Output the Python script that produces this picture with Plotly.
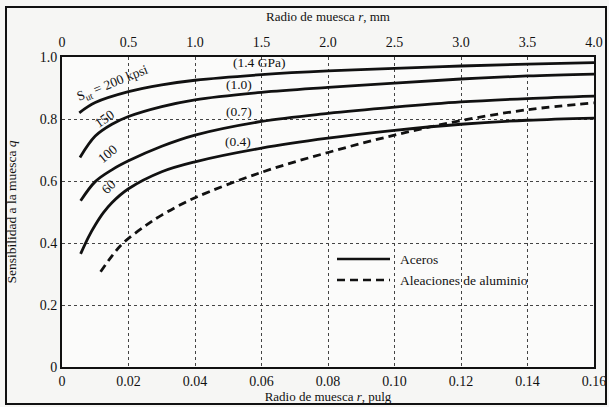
import plotly.graph_objects as go

# Notch radius r (in) and notch sensitivity q
r_200 = [0.0052, 0.01, 0.02, 0.03, 0.04, 0.06, 0.08, 0.10, 0.12, 0.14, 0.16]
q_200 = [0.820, 0.853, 0.888, 0.910, 0.925, 0.943, 0.955, 0.963, 0.971, 0.977, 0.982]

r_150 = [0.0054, 0.01, 0.015, 0.02, 0.03, 0.04, 0.06, 0.08, 0.10, 0.12, 0.14, 0.16]
q_150 = [0.676, 0.745, 0.783, 0.808, 0.840, 0.862, 0.886, 0.902, 0.916, 0.929, 0.939, 0.945]

r_100 = [0.0056, 0.01, 0.015, 0.02, 0.03, 0.04, 0.06, 0.08, 0.10, 0.12, 0.14, 0.16]
q_100 = [0.536, 0.598, 0.636, 0.665, 0.712, 0.748, 0.792, 0.818, 0.838, 0.855, 0.866, 0.874]

r_60 = [0.0056, 0.008, 0.01, 0.0124, 0.015, 0.02, 0.03, 0.04, 0.06, 0.08, 0.10, 0.12, 0.14, 0.16]
q_60 = [0.365, 0.420, 0.458, 0.497, 0.530, 0.575, 0.630, 0.662, 0.706, 0.738, 0.763, 0.783, 0.796, 0.803]

r_al = [0.0116, 0.015, 0.0184, 0.025, 0.03, 0.04, 0.06, 0.08, 0.10, 0.12, 0.14, 0.16]
q_al = [0.307, 0.358, 0.400, 0.455, 0.490, 0.546, 0.628, 0.692, 0.748, 0.795, 0.830, 0.852]

x_ticks_in = [0, 0.02, 0.04, 0.06, 0.08, 0.10, 0.12, 0.14, 0.16]
x_ticklabels_in = ["0", "0.02", "0.04", "0.06", "0.08", "0.10", "0.12", "0.14", "0.16"]
x_ticks_mm = [0, 0.5, 1.0, 1.5, 2.0, 2.5, 3.0, 3.5, 4.0]
x_ticklabels_mm = ["0", "0.5", "1.0", "1.5", "2.0", "2.5", "3.0", "3.5", "4.0"]
y_ticks = [0, 0.2, 0.4, 0.6, 0.8, 1.0]
y_ticklabels = ["0", "0.2", "0.4", "0.6", "0.8", "1.0"]

FONT = "Liberation Serif"
INK = "#111111"

fig = go.Figure()
for rr, qq in [(r_200, q_200), (r_150, q_150), (r_100, q_100), (r_60, q_60)]:
    fig.add_trace(go.Scatter(x=rr, y=qq, mode="lines", line=dict(color=INK, width=2.8, shape="spline", smoothing=1.0),
                             showlegend=False, hoverinfo="skip"))
fig.add_trace(go.Scatter(x=r_al, y=q_al, mode="lines",
                         line=dict(color=INK, width=2.8, dash="8px,5px", shape="spline", smoothing=1.0),
                         showlegend=False, hoverinfo="skip"))
# invisible trace to activate the top (mm) axis
fig.add_trace(go.Scatter(x=[0, 4.0], y=[0, 0], xaxis="x2", mode="lines", line=dict(width=0),
                         showlegend=False, hoverinfo="skip"))

grid = dict(showgrid=True, gridcolor="#444444", gridwidth=1, griddash="dot")
fig.update_layout(
    width=609, height=407,
    margin=dict(l=62, r=15, t=57, b=40),
    paper_bgcolor="#f6f6f4", plot_bgcolor="#fbfbfa",
    font=dict(family=FONT, size=14, color=INK),
    xaxis=dict(range=[0, 0.16], tickvals=x_ticks_in, ticktext=x_ticklabels_in, ticks="", automargin=False,
               showline=True, linecolor=INK, linewidth=2, mirror=True, zeroline=False,
               title=dict(text="Radio de muesca <i>r</i>, pulg", font=dict(size=13), standoff=2),
               **grid),
    xaxis2=dict(range=[0, 4.0], overlaying="x", side="top", tickvals=x_ticks_mm, ticktext=x_ticklabels_mm,
                ticks="", showgrid=False, zeroline=False, showline=False, automargin=False,
                ticklabelstandoff=6,
                title=dict(text="Radio de muesca <i>r</i>, mm", font=dict(size=13), standoff=10)),
    yaxis=dict(range=[0, 1.0], tickvals=y_ticks, ticktext=y_ticklabels, ticks="", automargin=False,
               showline=True, linecolor=INK, linewidth=2, mirror=True, zeroline=False,
               title=dict(text="Sensibilidad a la muesca <i>q</i>", font=dict(size=13.5), standoff=20),
               **grid),
)

labels = [
    ("S<sub>ut</sub> = 200 kpsi", 0.0154, 0.913, -22),
    ("150", 0.0129, 0.803, -35),
    ("100", 0.0138, 0.690, -40),
    ("60", 0.0141, 0.581, -45),
    ("(1.4 GPa)", 0.0595, 0.981, 0),
    ("(1.0)", 0.0532, 0.910, 0),
    ("(0.7)", 0.0532, 0.823, 0),
    ("(0.4)", 0.0529, 0.729, 0),
]
for txt, x, y, ang in labels:
    fig.add_annotation(x=x, y=y, text=txt, showarrow=False, textangle=ang,
                       xanchor="center", yanchor="middle",
                       font=dict(family=FONT, size=13.5, color=INK))

# legend drawn in plot area
def px2paper(px, py):
    return (px - 62) / 532, (367 - py) / 310

x0, y0 = px2paper(337, 259)
x1, _ = px2paper(390, 259)
fig.add_shape(type="line", xref="paper", yref="paper", x0=x0, x1=x1, y0=y0, y1=y0,
              line=dict(color=INK, width=2.4))
x0, y0 = px2paper(337, 280)
fig.add_shape(type="line", xref="paper", yref="paper", x0=x0, x1=x1, y0=y0, y1=y0,
              line=dict(color=INK, width=2.4, dash="8px,5px"))
tx, ty = px2paper(398, 259)
fig.add_annotation(xref="paper", yref="paper", x=tx, y=ty, text="Aceros", showarrow=False,
                   xanchor="left", yanchor="middle", font=dict(family=FONT, size=13.5, color=INK))
tx, ty = px2paper(398, 280)
fig.add_annotation(xref="paper", yref="paper", x=tx, y=ty, text="Aleaciones de aluminio", showarrow=False,
                   xanchor="left", yanchor="middle", font=dict(family=FONT, size=13.5, color=INK))

# outer frame of the figure
fx0, fy0 = px2paper(6, 404)
fx1, fy1 = px2paper(606, 7)
fig.add_shape(type="rect", xref="paper", yref="paper", x0=fx0, y0=fy0, x1=fx1, y1=fy1,
              line=dict(color=INK, width=2))

fig.write_html("out.html", config={"displayModeBar": False},
               post_script="document.body.style.margin='0';document.body.style.overflow='hidden';")
